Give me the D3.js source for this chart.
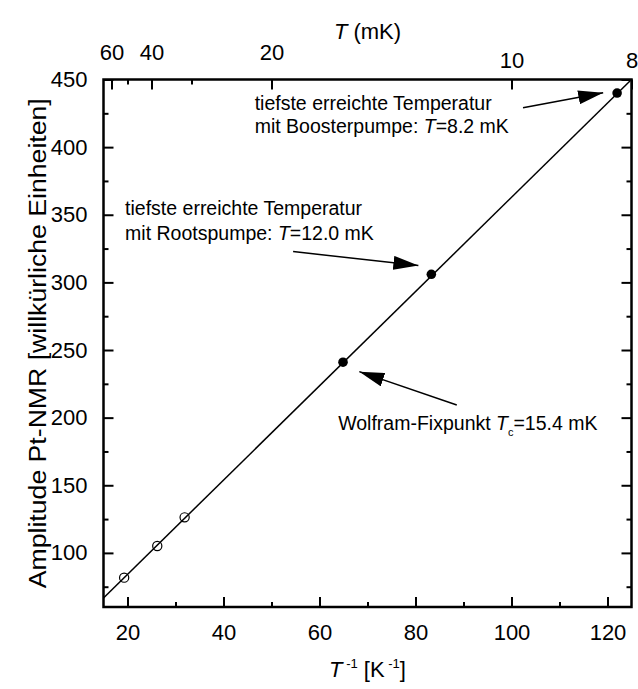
<!DOCTYPE html>
<html>
<head>
<meta charset="utf-8">
<script src="https://cdn.jsdelivr.net/npm/d3@7"></script>
<style>
  body { margin: 0; background: #fff; }
  text { font-family: "Liberation Sans", Arial, sans-serif; fill: #000; }
</style>
</head>
<body>
<script>
// ---- values ----
// open circles (calibration points) and filled circles (marked temperatures)
var invTOpen = [19.3, 26.2, 31.9];
var ampOpen = [81.7, 105.1, 126.3];
var invTFilled = [64.9, 83.3, 122.0];
var ampFilled = [241, 306, 440];

// straight fit line, ends at the frame
var fitInvT = [15, 125];
var fitAmp = [66.7, 450];

// ticks
var xMajor = [20, 40, 60, 80, 100, 120];
var xMinor = [30, 50, 70, 90, 110];
var yMajor = [100, 150, 200, 250, 300, 350, 400, 450];
var yMinor = [75, 125, 175, 225, 275, 325, 375, 425];
var tMajor = [60, 40, 20, 10, 8];   // top axis, in mK
var tMinor = [50, 30];

// annotations: text lines, and arrow tail -> tip, all in data units
var notes = [
  { x: 46.5, y: [427.6, 410.3], lines: [['tiefste erreichte Temperatur'], ['mit Boosterpumpe: ', {i: 'T'}, '=8.2 mK']],
    arrow: [[102.4, 429.1], [119.1, 440.2]] },
  { x: 19.5, y: [350, 331.5], lines: [['tiefste erreichte Temperatur'], ['mit Rootspumpe: ', {i: 'T'}, '=12.0 mK']],
    arrow: [[54.5, 322.8], [80.6, 312.4]] },
  { x: 63.9, y: [190.9], lines: [['Wolfram-Fixpunkt ', {i: 'T'}, {sub: 'c'}, '=15.4 mK']],
    arrow: [[88.6, 209.4], [68.3, 234.0]] }
];

var W = 638, H = 689;
var LEFT = 103.5, RIGHT = 631.5, TOP = 79.5, BOTTOM = 607;

var x = d3.scaleLinear().domain([15, 125]).range([LEFT, RIGHT]);
var y = d3.scaleLinear().domain([60, 450]).range([BOTTOM, TOP]);

var svg = d3.select('body').append('svg')
  .attr('width', W)
  .attr('height', H);

// arrow head marker
svg.append('defs').append('marker')
  .attr('id', 'head')
  .attr('viewBox', '0 0 25 14')
  .attr('refX', 25).attr('refY', 7)
  .attr('markerWidth', 25).attr('markerHeight', 14)
  .attr('markerUnits', 'userSpaceOnUse')
  .attr('orient', 'auto')
  .append('path')
  .attr('d', 'M0,0 L25,7 L0,14 Z')
  .attr('fill', '#000');

// ------------------------ AXES (ticks point inward) ------------------------
function styleAxis(g) {
  g.select('.domain').remove();
  g.selectAll('line').attr('stroke', '#000').attr('stroke-width', 2);
  g.selectAll('text').attr('font-size', '22px').attr('fill', '#000')
    .attr('font-family', '"Liberation Sans", Arial, sans-serif');
}

svg.append('g').attr('transform', 'translate(0,' + BOTTOM + ')')
  .call(d3.axisBottom(x).tickValues(xMajor).tickSize(-10).tickPadding(17))
  .call(styleAxis);
svg.append('g').attr('transform', 'translate(0,' + BOTTOM + ')')
  .call(d3.axisBottom(x).tickValues(xMinor).tickSize(-5).tickFormat(''))
  .call(styleAxis);

svg.append('g').attr('transform', 'translate(' + LEFT + ',0)')
  .call(d3.axisLeft(y).tickValues(yMajor).tickSize(-10).tickPadding(16))
  .call(styleAxis);
svg.append('g').attr('transform', 'translate(' + LEFT + ',0)')
  .call(d3.axisLeft(y).tickValues(yMinor).tickSize(-5).tickFormat(''))
  .call(styleAxis);

// right side mirrors the left, no labels
svg.append('g').attr('transform', 'translate(' + RIGHT + ',0)')
  .call(d3.axisRight(y).tickValues(yMajor).tickSize(-10).tickFormat(''))
  .call(styleAxis);
svg.append('g').attr('transform', 'translate(' + RIGHT + ',0)')
  .call(d3.axisRight(y).tickValues(yMinor).tickSize(-5).tickFormat(''))
  .call(styleAxis);

// top axis is T in mK, placed at 1000/T on the same x scale
var topAxis = svg.append('g').attr('transform', 'translate(0,' + TOP + ')')
  .call(d3.axisTop(x).tickValues(tMajor.map(function(t) { return 1000 / t; }))
    .tickSize(-10).tickPadding(20)
    .tickFormat(function(v) { return Math.round(1000 / v); }))
  .call(styleAxis);
// in the picture the 10 and 8 labels sit a bit lower than the others
topAxis.selectAll('text').attr('dy', function(v) { return v >= 100 ? '0.38em' : '0em'; });

svg.append('g').attr('transform', 'translate(0,' + TOP + ')')
  .call(d3.axisTop(x).tickValues(tMinor.map(function(t) { return 1000 / t; }))
    .tickSize(-5).tickFormat(''))
  .call(styleAxis);

// frame
svg.append('rect')
  .attr('x', LEFT).attr('y', TOP)
  .attr('width', RIGHT - LEFT).attr('height', BOTTOM - TOP)
  .attr('fill', 'none').attr('stroke', '#000').attr('stroke-width', 2.5);

// ------------------------ FIT LINE AND POINTS ------------------------
svg.append('path')
  .datum(d3.zip(fitInvT, fitAmp))
  .attr('d', d3.line().x(function(d) { return x(d[0]); }).y(function(d) { return y(d[1]); }))
  .attr('fill', 'none').attr('stroke', '#000').attr('stroke-width', 1.5);

svg.selectAll('.open')
  .data(d3.zip(invTOpen, ampOpen))
  .enter().append('circle')
  .attr('class', 'open')
  .attr('cx', function(d) { return x(d[0]); })
  .attr('cy', function(d) { return y(d[1]); })
  .attr('r', 4.6)
  .attr('fill', 'none').attr('stroke', '#000').attr('stroke-width', 1.2);

svg.selectAll('.filled')
  .data(d3.zip(invTFilled, ampFilled))
  .enter().append('circle')
  .attr('class', 'filled')
  .attr('cx', function(d) { return x(d[0]); })
  .attr('cy', function(d) { return y(d[1]); })
  .attr('r', 4.8)
  .attr('fill', '#000');

// ------------------------ ANNOTATIONS ------------------------
notes.forEach(function(n) {
  n.lines.forEach(function(parts, k) {
    var t = svg.append('text')
      .attr('x', x(n.x)).attr('y', y(n.y[k]))
      .attr('font-size', '19.5px')
      .style('white-space', 'pre');
    var shifted = false;
    parts.forEach(function(p) {
      var s;
      var isObj = typeof p === 'object';
      if (!isObj) s = t.append('tspan').text(p);
      else if (p.i) s = t.append('tspan').attr('font-style', 'italic').text(p.i);
      else s = t.append('tspan').attr('font-size', '11px').attr('dy', 6).text(p.sub);
      // undo the subscript shift for what follows
      if (shifted) s.attr('dy', -6);
      shifted = isObj && p.sub !== undefined;
    });
  });

  svg.append('line')
    .attr('x1', x(n.arrow[0][0])).attr('y1', y(n.arrow[0][1]))
    .attr('x2', x(n.arrow[1][0])).attr('y2', y(n.arrow[1][1]))
    .attr('stroke', '#000').attr('stroke-width', 1.5)
    .attr('marker-end', 'url(#head)');
});

// ------------------------ AXIS TITLES ------------------------
var xt = svg.append('text')
  .attr('x', (LEFT + RIGHT) / 2).attr('y', 677)
  .attr('text-anchor', 'middle').attr('font-size', '22px')
  .style('white-space', 'pre');
xt.append('tspan').attr('font-style', 'italic').text('T');
xt.append('tspan').attr('font-size', '13px').attr('dy', '-9').text(' -1');
xt.append('tspan').attr('dy', '9').text(' [K');
xt.append('tspan').attr('font-size', '13px').attr('dy', '-9').text(' -1');
xt.append('tspan').attr('dy', '9').text(']');

var tt = svg.append('text')
  .attr('x', (LEFT + RIGHT) / 2).attr('y', 39)
  .attr('text-anchor', 'middle').attr('font-size', '22px')
  .style('white-space', 'pre');
tt.append('tspan').attr('font-style', 'italic').text('T');
tt.append('tspan').text(' (mK)');

// the title in the picture is drawn long and narrow
svg.append('text')
  .attr('transform', 'translate(46,' + (TOP + BOTTOM) / 2 + ') rotate(-90)')
  .attr('text-anchor', 'middle').attr('font-size', '23px')
  .attr('textLength', 490).attr('lengthAdjust', 'spacingAndGlyphs')
  .text('Amplitude Pt-NMR [willkürliche Einheiten]');
</script>
</body>
</html>
